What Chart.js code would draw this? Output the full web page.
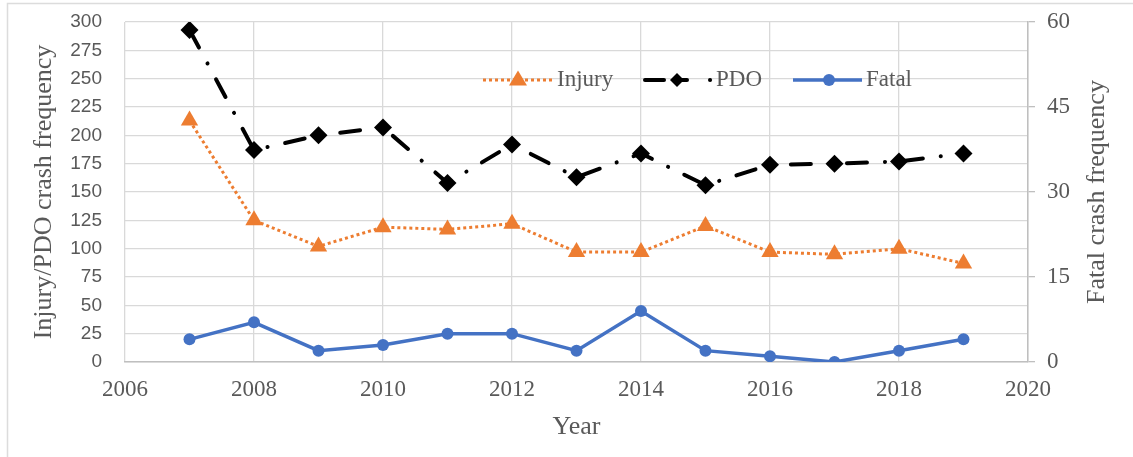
<!DOCTYPE html>
<html>
<head>
<meta charset="utf-8">
<script src="https://cdn.jsdelivr.net/npm/chart.js@4/dist/chart.umd.min.js"></script>
<style>
  html, body { margin: 0; padding: 0; background: #ffffff; }
  #wrap { width: 1133px; height: 457px; position: relative; }
</style>
</head>
<body>
<div id="wrap"><canvas id="c" width="1133" height="457"></canvas></div>
<script>
// ---- data ----
const years  = [2007, 2008, 2009, 2010, 2011, 2012, 2013, 2014, 2015, 2016, 2017, 2018, 2019];
const injury = [213, 125, 102, 119, 117, 122, 97, 97, 120, 97, 95, 100, 87];
const pdo    = [293, 187, 200, 207, 158, 192, 163, 184, 156, 174, 175, 177, 184];
const fatal  = [4, 7, 2, 3, 5, 5, 2, 9, 2, 1, 0, 2, 4];

const xTicks     = [2006, 2008, 2010, 2012, 2014, 2016, 2018, 2020];
const leftTicks  = [0, 25, 50, 75, 100, 125, 150, 175, 200, 225, 250, 275, 300];
const rightTicks = [0, 15, 30, 45, 60];

const seriesNames = ['Injury', 'PDO', 'Fatal'];
const xTitle = 'Year';
const leftTitle = 'Injury/PDO crash frequency';
const rightTitle = 'Fatal crash frequency';

// ---- styles ----
const ORANGE = '#ED7D31', BLACK = '#000000', BLUE = '#4472C4';
const TEXT = '#595959', GRID = '#d9d9d9', AXIS = '#bfbfbf';
const SERIF = '"Liberation Serif", "Times New Roman", serif';
const SANS = '"Liberation Sans", Arial, sans-serif';

const pts = arr => years.map((y, i) => ({ x: y, y: arr[i] }));
const setTicks = arr => scale => { scale.ticks = arr.map(v => ({ value: v })); };
const noVPad = w => s => { s.width = w; s.paddingTop = 0; s.paddingBottom = 0; };

const PDO_DASH = [20, 18, 0.1, 18];
const INJ_DASH = [3, 3];

const legendPlugin = {
  id: 'customLegend',
  afterDraw(chart) {
    const ctx = chart.ctx;
    const y = 80;
    ctx.save();
    // Injury
    ctx.strokeStyle = ORANGE; ctx.lineWidth = 3; ctx.setLineDash(INJ_DASH); ctx.lineCap = 'butt';
    ctx.beginPath(); ctx.moveTo(483, y); ctx.lineTo(552, y); ctx.stroke();
    ctx.setLineDash([]);
    ctx.fillStyle = ORANGE;
    ctx.beginPath(); ctx.moveTo(518, y - 9.5); ctx.lineTo(527, y + 5.5); ctx.lineTo(509, y + 5.5); ctx.closePath(); ctx.fill();
    // PDO
    ctx.strokeStyle = BLACK; ctx.lineWidth = 4; ctx.lineCap = 'round';
    ctx.beginPath(); ctx.moveTo(645, y); ctx.lineTo(664, y); ctx.stroke();
    ctx.beginPath(); ctx.moveTo(677, y); ctx.lineTo(687, y); ctx.stroke();
    ctx.beginPath(); ctx.moveTo(710, y); ctx.lineTo(710.1, y); ctx.stroke();
    ctx.fillStyle = BLACK;
    ctx.beginPath(); ctx.moveTo(677, y - 7); ctx.lineTo(684, y); ctx.lineTo(677, y + 7); ctx.lineTo(670, y); ctx.closePath(); ctx.fill();
    // Fatal
    ctx.strokeStyle = BLUE; ctx.lineWidth = 3.5; ctx.lineCap = 'butt';
    ctx.beginPath(); ctx.moveTo(793, y); ctx.lineTo(862, y); ctx.stroke();
    ctx.fillStyle = BLUE;
    ctx.beginPath(); ctx.arc(829, y, 6, 0, Math.PI * 2); ctx.fill();
    // texts
    ctx.fillStyle = TEXT; ctx.font = '23px ' + SERIF; ctx.textBaseline = 'middle'; ctx.textAlign = 'left';
    ctx.fillText(seriesNames[0], 557, y);
    ctx.fillText(seriesNames[1], 716, y);
    ctx.fillText(seriesNames[2], 866, y);
    // right axis title, reading bottom-to-top
    const a = chart.chartArea;
    ctx.translate(1097, (a.top + a.bottom) / 2);
    ctx.rotate(-Math.PI / 2);
    ctx.textAlign = 'center';
    ctx.font = '26px ' + SERIF;
    ctx.fillText(rightTitle, 0, 0);
    ctx.restore();
  }
};

const borderPlugin = {
  id: 'outerBorder',
  beforeDraw(chart) {
    const ctx = chart.ctx;
    ctx.save();
    ctx.fillStyle = '#ffffff';
    ctx.fillRect(0, 0, chart.width, chart.height);
    ctx.strokeStyle = '#dcdcdc'; ctx.lineWidth = 1.5;
    ctx.beginPath();
    ctx.moveTo(7.5, 457); ctx.lineTo(7.5, 3.5); ctx.lineTo(1133, 3.5);
    ctx.stroke();
    ctx.restore();
  }
};

new Chart(document.getElementById('c'), {
  type: 'line',
  data: {
    datasets: [
      {
        label: seriesNames[2], data: pts(fatal), yAxisID: 'y1',
        borderColor: BLUE, backgroundColor: BLUE, borderWidth: 3.5,
        pointStyle: 'circle', pointRadius: 6, pointBorderWidth: 0, pointBackgroundColor: BLUE,
        tension: 0, order: 3
      },
      {
        label: seriesNames[0], data: pts(injury), yAxisID: 'y',
        borderColor: ORANGE, backgroundColor: ORANGE, borderWidth: 3, borderDash: INJ_DASH,
        pointStyle: 'triangle', pointRadius: 10, pointBorderWidth: 0, pointBackgroundColor: ORANGE,
        tension: 0, order: 2
      },
      {
        label: seriesNames[1], data: pts(pdo), yAxisID: 'y',
        borderColor: BLACK, backgroundColor: BLACK, borderWidth: 4, borderDash: PDO_DASH,
        borderCapStyle: 'round',
        pointStyle: 'rectRot', pointRadius: 9, pointBorderWidth: 0, pointBackgroundColor: BLACK,
        tension: 0, order: 1
      }
    ]
  },
  options: {
    responsive: false,
    animation: false,
    devicePixelRatio: 1,
    layout: { padding: { top: 22, left: 0, right: 0, bottom: 0 } },
    plugins: { legend: { display: false }, tooltip: { enabled: false } },
    elements: { line: { fill: false } },
    scales: {
      x: {
        type: 'linear', position: 'bottom', min: 2006, max: 2020,
        afterBuildTicks: setTicks(xTicks),
        afterFit: s => { s.height = 95; s.paddingLeft = 0; s.paddingRight = 0; },
        grid: { color: GRID, lineWidth: 1.3, drawTicks: false },
        border: { display: true, color: AXIS, width: 1.5 },
        ticks: { color: TEXT, font: { family: SERIF, size: 23 }, padding: 14, callback: v => String(v), maxRotation: 0, autoSkip: false },
        title: { display: true, text: xTitle, color: TEXT, font: { family: SERIF, size: 26 }, padding: { top: 0, bottom: 14.4 } }
      },
      y: {
        type: 'linear', position: 'left', min: 0, max: 300,
        afterBuildTicks: setTicks(leftTicks),
        afterFit: noVPad(125),
        grid: { color: GRID, lineWidth: 1.3, drawTicks: false },
        border: { display: false },
        ticks: { color: TEXT, font: { family: SANS, size: 19 }, padding: 23, autoSkip: false },
        title: { display: true, text: leftTitle, color: TEXT, font: { family: SERIF, size: 26 }, padding: { top: 28.4, bottom: 0 } }
      },
      y1: {
        type: 'linear', position: 'right', min: 0, max: 60,
        afterBuildTicks: setTicks(rightTicks),
        afterFit: noVPad(105),
        grid: { drawOnChartArea: false, color: AXIS, drawTicks: true, tickLength: 7, lineWidth: 1.3 },
        border: { display: true, color: AXIS, width: 1.5 },
        ticks: { color: TEXT, font: { family: SERIF, size: 23 }, padding: 12, autoSkip: false },
        title: { display: false }
      }
    }
  },
  plugins: [borderPlugin, legendPlugin]
});
</script>
</body>
</html>
